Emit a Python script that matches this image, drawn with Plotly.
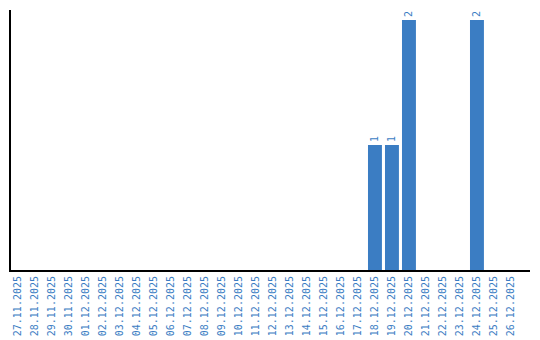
import plotly.graph_objects as go

dates = ["27.11.2025", "28.11.2025", "29.11.2025", "30.11.2025", "01.12.2025", "02.12.2025",
         "03.12.2025", "04.12.2025", "05.12.2025", "06.12.2025", "07.12.2025", "08.12.2025",
         "09.12.2025", "10.12.2025", "11.12.2025", "12.12.2025", "13.12.2025", "14.12.2025",
         "15.12.2025", "16.12.2025", "17.12.2025", "18.12.2025", "19.12.2025", "20.12.2025",
         "21.12.2025", "22.12.2025", "23.12.2025", "24.12.2025", "25.12.2025", "26.12.2025"]
counts = [0, 0, 0, 0, 0, 0, 0, 0, 0, 0, 0, 0, 0, 0, 0, 0, 0, 0, 0, 0, 0,
          1, 1, 2, 0, 0, 0, 2, 0, 0]

blue = "#3b7dc3"
font_family = "DejaVu Sans Mono"
labels = [str(v) if v else "" for v in counts]

fig = go.Figure(go.Bar(
    x=list(range(len(dates))), y=counts, marker_color=blue, marker_line_width=0,
    text=labels, textposition="outside", textangle=-90,
    textfont=dict(family=font_family, size=10, color=blue),
    cliponaxis=False,
))
fig.update_layout(
    width=540, height=340, margin=dict(l=11, r=10, t=10, b=70, autoexpand=False),
    paper_bgcolor="white", plot_bgcolor="white", showlegend=False, bargap=0.18,
    font=dict(family=font_family, size=10, color=blue),
)
fig.update_xaxes(range=[-0.41, 30.12], tickmode="array", tickvals=list(range(len(dates))),
                 ticktext=dates, tickangle=-90, showgrid=False, zeroline=False,
                 showline=True, linecolor="black", linewidth=2, ticks="", automargin=False,
                 tickfont=dict(family=font_family, size=10, color=blue))
fig.update_yaxes(range=[0, 2.08], showticklabels=False, showgrid=False, zeroline=False,
                 showline=True, linecolor="black", linewidth=2, ticks="", automargin=False)
fig.write_html("out.html")
